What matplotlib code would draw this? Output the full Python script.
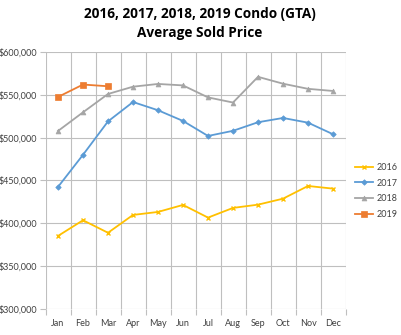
import matplotlib
matplotlib.use("Agg")
import matplotlib.pyplot as plt
from matplotlib.ticker import FuncFormatter, FixedLocator

months = ["Jan", "Feb", "Mar", "Apr", "May", "Jun", "Jul", "Aug", "Sep", "Oct", "Nov", "Dec"]
y2016 = [385300, 403600, 389000, 409800, 413300, 421500, 406700, 418000, 421800, 428800, 443600, 440500]
y2017 = [442500, 480000, 519000, 541600, 532000, 519500, 502000, 508000, 518000, 523000, 517500, 504000]
y2018 = [507800, 529600, 551000, 559500, 562700, 561000, 547000, 541000, 571000, 563000, 557000, 554500]
y2019 = [547500, 562000, 560000]
years = ["2016", "2017", "2018", "2019"]

plt.rcParams['font.family'] = ['Lato', 'DejaVu Sans']

fig = plt.figure(figsize=(4.02, 3.35), dpi=100)
ax = fig.add_axes([0.1132, 0.0776, 0.7463, 0.7672])

x = list(range(len(months)))
series = [
    (y2016, "#FFC000", "x", 3.5),
    (y2017, "#5B9BD5", "D", 2.8),
    (y2018, "#A5A5A5", "^", 3.5),
    (y2019, "#ED7D31", "s", 3.8),
]
for (vals, col, mk, ms), lab in zip(series, years):
    ax.plot(x[:len(vals)], vals, color=col, marker=mk, markersize=ms, linewidth=1.3,
            label=lab, markeredgewidth=1.0 if mk == "x" else 0.5)

ax.set_xlim(-0.5, 11.5)
ax.set_ylim(300000, 600000)
ax.set_yticks(range(300000, 600001, 50000))
ax.yaxis.set_major_formatter(FuncFormatter(lambda v, p: "${:,.0f}".format(v)))
ax.set_xticks(x)
ax.set_xticklabels(months)
ax.xaxis.set_minor_locator(FixedLocator([i - 0.5 for i in range(13)]))
ax.tick_params(axis='x', which='major', length=0, labelsize=6.5, colors="#404040", pad=7)
ax.tick_params(axis='x', which='minor', length=4, color="#bfbfbf", width=0.8)
ax.tick_params(axis='y', which='major', length=4, color="#bfbfbf", width=0.8, labelsize=6.5, labelcolor="#404040", pad=2)
ax.grid(True, axis='y', which='major', color="#bfbfbf", linewidth=0.8)
ax.grid(True, axis='x', which='minor', color="#bfbfbf", linewidth=0.8)
ax.grid(False, axis='x', which='major')
ax.set_axisbelow(True)
for s in ax.spines.values():
    s.set_visible(False)

fig.text(0.497, 0.958, "2016, 2017, 2018, 2019 Condo (GTA)", ha="center", va="center",
         fontsize=9.8, fontweight="bold", color="#000000", family=['Open Sans', 'DejaVu Sans'])
fig.text(0.497, 0.900, "Average Sold Price", ha="center", va="center",
         fontsize=9.8, fontweight="bold", color="#000000", family=['Open Sans', 'DejaVu Sans'])

fig.legend(loc="upper left", bbox_to_anchor=(0.875, 0.525), frameon=False, fontsize=6.5,
           handlelength=2.0, handletextpad=0.3, labelspacing=0.75, borderaxespad=0,
           labelcolor="#404040")

fig.savefig("out.png", dpi=100)
